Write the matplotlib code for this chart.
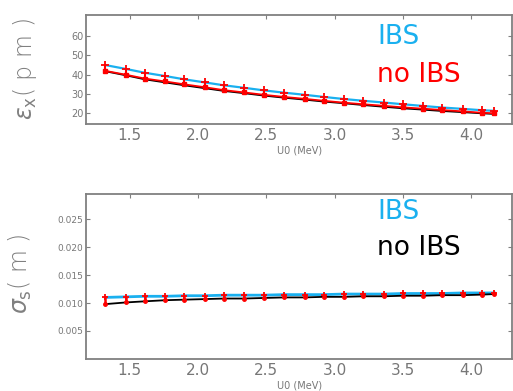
import numpy as np
import matplotlib
matplotlib.use("Agg")
import matplotlib.pyplot as plt

# U0 values (MeV)
u0 = [1.32, 1.47, 1.61, 1.76, 1.90, 2.05, 2.19, 2.34, 2.48, 2.63, 2.78,
      2.92, 3.07, 3.21, 3.36, 3.50, 3.65, 3.79, 3.94, 4.08, 4.17]

# horizontal emittance (pm)
eps_ibs = [45.0, 43.0, 41.0, 39.3, 37.6, 36.0, 34.5, 33.2, 31.9, 30.7, 29.6,
           28.5, 27.4, 26.5, 25.6, 24.7, 23.8, 23.0, 22.3, 21.6, 21.3]
eps_noibs = [42.0, 40.0, 38.0, 36.5, 35.0, 33.5, 32.0, 30.8, 29.6, 28.5, 27.5,
             26.5, 25.5, 24.7, 23.9, 23.1, 22.4, 21.7, 21.0, 20.3, 20.0]
eps_noibs2 = [41.8, 39.7, 37.6, 36.0, 34.5, 33.0, 31.6, 30.4, 29.2, 28.1, 27.1,
              26.1, 25.2, 24.3, 23.4, 22.6, 21.9, 21.2, 20.6, 20.0, 19.7]

# bunch length (m)
sig_ibs = [0.0110, 0.0111, 0.0112, 0.0112, 0.0113, 0.0113, 0.0114, 0.0114, 0.0114,
           0.0115, 0.0115, 0.0115, 0.0116, 0.0116, 0.0116, 0.0117, 0.0117, 0.0117,
           0.0118, 0.0118, 0.0118]
sig_noibs = [0.0098, 0.0101, 0.0103, 0.0105, 0.0106, 0.0107, 0.0108, 0.0108, 0.0109,
             0.0110, 0.0110, 0.0111, 0.0111, 0.0112, 0.0112, 0.0113, 0.0113, 0.0114,
             0.0114, 0.0115, 0.0116]

eps_ticks = [20, 30, 40, 50, 60]
sig_ticks = [0.005, 0.010, 0.015, 0.020, 0.025]
x_ticks = [1.5, 2.0, 2.5, 3.0, 3.5, 4.0]

cyan = "#1ab0ef"
grey = "#808080"
tick_grey = "#777777"

fig = plt.figure(figsize=(5.13, 3.91), dpi=100)
ax1 = fig.add_axes([0.168, 0.683, 0.830, 0.279])
ax2 = fig.add_axes([0.168, 0.082, 0.830, 0.422])

def style(ax):
    for s in ax.spines.values():
        s.set_color(grey)
        s.set_linewidth(1.3)
    ax.set_xlim(1.18, 4.30)
    ax.set_xticks(x_ticks)
    ax.set_xticklabels(["%.1f" % t for t in x_ticks])
    ax.tick_params(axis="x", direction="in", top=True, bottom=False, length=3,
                   color=grey, labelsize=11, labelcolor=tick_grey, pad=3)
    ax.tick_params(axis="y", direction="in", left=True, right=True, length=3,
                   color=grey, labelcolor=tick_grey, pad=2)
    ax.set_xlabel("U0 (MeV)", fontsize=7, color=tick_grey, labelpad=2)

# top panel
x = np.array(u0)
ax1.plot(x, eps_ibs, color=cyan, lw=1.6, zorder=2)
ax1.plot(x, eps_noibs2, color="black", lw=1.3, zorder=2)
ax1.plot(x, eps_noibs, color="red", lw=1.3, zorder=3)
ax1.vlines(x, eps_noibs, eps_ibs, color="red", lw=1.5, zorder=4)
ax1.plot(x, eps_ibs, ls="none", marker="+", ms=6, mew=1.3, color="red", zorder=4)
ax1.plot(x, eps_noibs, ls="none", marker="s", ms=3.5, color="red", zorder=4)
style(ax1)
ax1.set_ylim(14.5, 71)
ax1.set_yticks(eps_ticks)
ax1.set_yticklabels(["%d" % t for t in eps_ticks])
ax1.tick_params(axis="y", labelsize=7)

# bottom panel
ax2.plot(x, sig_ibs, color=cyan, lw=2.0, zorder=2)
ax2.plot(x, sig_noibs, color="black", lw=1.3, zorder=2)
ax2.vlines(x, sig_noibs, sig_ibs, color="red", lw=1.8, zorder=4)
ax2.plot(x, sig_ibs, ls="none", marker="+", ms=5, mew=1.3, color="red", zorder=4)
ax2.plot(x, sig_noibs, ls="none", marker="o", ms=2.5, color="red", zorder=4)
style(ax2)
ax2.set_ylim(0, 0.0295)
ax2.set_yticks(sig_ticks)
ax2.set_yticklabels(["%.3f" % t for t in sig_ticks])
ax2.tick_params(axis="y", labelsize=6.5)

# y labels
fig.text(0.049, 0.822, r"$\varepsilon_{\rm x}$( p m )", rotation=90, ha="center",
         va="center", fontsize=17, color=grey, fontweight="light")
fig.text(0.040, 0.300, r"$\sigma_{\rm s}$( m )", rotation=90, ha="center",
         va="center", fontsize=17, color=grey, fontweight="light")

# legend texts
fig.text(0.735, 0.905, "IBS", color=cyan, fontsize=19, va="center")
fig.text(0.735, 0.808, "no IBS", color="red", fontsize=19, va="center")
fig.text(0.735, 0.458, "IBS", color=cyan, fontsize=19, va="center")
fig.text(0.735, 0.366, "no IBS", color="black", fontsize=19, va="center")

fig.savefig("out.png", dpi=100)
